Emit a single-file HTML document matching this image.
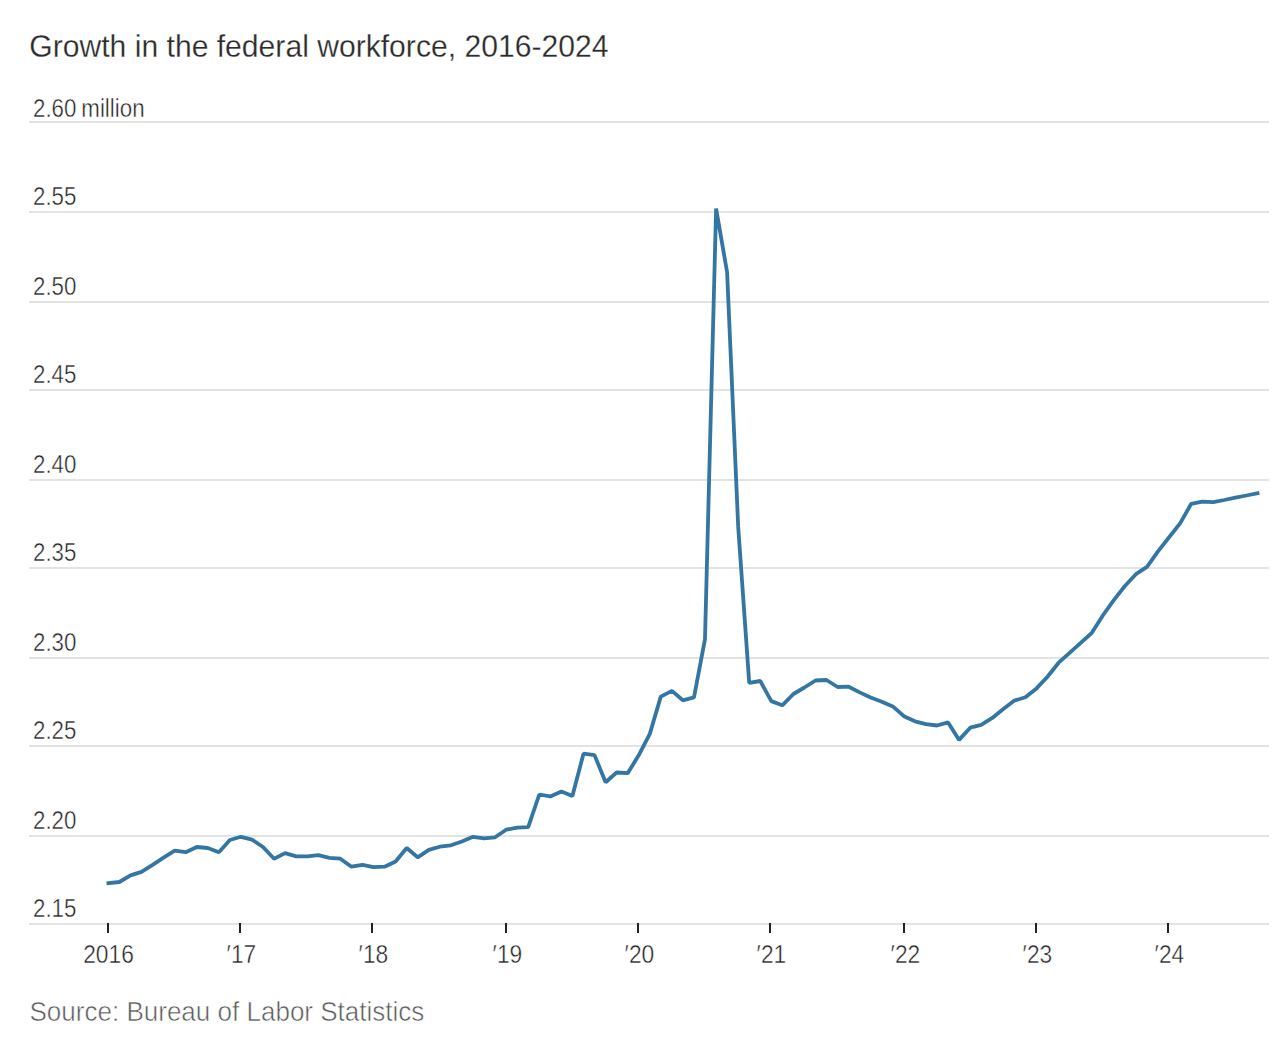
<!DOCTYPE html>
<html><head><meta charset="utf-8"><style>
html,body{margin:0;padding:0;background:#fff;}
svg{display:block;}
text{font-family:"Liberation Sans",sans-serif;}
</style></head><body>
<svg width="1284" height="1054" viewBox="0 0 1284 1054">
<rect width="1284" height="1054" fill="#fff"/>
<text transform="translate(29.3,57) scale(0.975,1)" font-size="30.9" fill="#2b2b2b" stroke="#fff" stroke-width="0.25">Growth in the federal workforce, 2016-2024</text>
<rect x="29" y="121.0" width="1240" height="2" fill="#e3e3e3"/><rect x="29" y="211.0" width="1240" height="2" fill="#e3e3e3"/><rect x="29" y="301.0" width="1240" height="2" fill="#e3e3e3"/><rect x="29" y="389.0" width="1240" height="2" fill="#e3e3e3"/><rect x="29" y="479.0" width="1240" height="2" fill="#e3e3e3"/><rect x="29" y="567.0" width="1240" height="2" fill="#e3e3e3"/><rect x="29" y="657.0" width="1240" height="2" fill="#e3e3e3"/><rect x="29" y="745.0" width="1240" height="2" fill="#e3e3e3"/><rect x="29" y="835.0" width="1240" height="2" fill="#e3e3e3"/><rect x="29" y="923.0" width="1240" height="2" fill="#e3e3e3"/>
<g font-size="26" fill="#1f1f1f" stroke="#fff" stroke-width="0.45"><text transform="translate(33,116.8) scale(0.858,1)" x="0" y="0">2.60<tspan dx="5.75">million</tspan></text><text transform="translate(33,204.8) scale(0.858,1)" x="0" y="0">2.55</text><text transform="translate(33,294.8) scale(0.858,1)" x="0" y="0">2.50</text><text transform="translate(33,382.9) scale(0.858,1)" x="0" y="0">2.45</text><text transform="translate(33,472.9) scale(0.858,1)" x="0" y="0">2.40</text><text transform="translate(33,560.8) scale(0.858,1)" x="0" y="0">2.35</text><text transform="translate(33,650.8) scale(0.858,1)" x="0" y="0">2.30</text><text transform="translate(33,738.8) scale(0.858,1)" x="0" y="0">2.25</text><text transform="translate(33,828.8) scale(0.858,1)" x="0" y="0">2.20</text><text transform="translate(33,916.8) scale(0.858,1)" x="0" y="0">2.15</text></g>
<rect x="107" y="923" width="2" height="10" fill="#222"/><rect x="239" y="923" width="2" height="10" fill="#222"/><rect x="371" y="923" width="2" height="10" fill="#222"/><rect x="505" y="923" width="2" height="10" fill="#222"/><rect x="637" y="923" width="2" height="10" fill="#222"/><rect x="769" y="923" width="2" height="10" fill="#222"/><rect x="903" y="923" width="2" height="10" fill="#222"/><rect x="1035" y="923" width="2" height="10" fill="#222"/><rect x="1167" y="923" width="2" height="10" fill="#222"/>
<g font-size="26" fill="#1f1f1f" stroke="#fff" stroke-width="0.45"><text text-anchor="middle" transform="translate(108.5,963) scale(0.876,1)">2016</text><text text-anchor="middle" transform="translate(241.4,963) scale(0.876,1)">′17</text><text text-anchor="middle" transform="translate(373.4,963) scale(0.876,1)">′18</text><text text-anchor="middle" transform="translate(507.4,963) scale(0.876,1)">′19</text><text text-anchor="middle" transform="translate(639.4,963) scale(0.876,1)">′20</text><text text-anchor="middle" transform="translate(771.4,963) scale(0.876,1)">′21</text><text text-anchor="middle" transform="translate(905.4,963) scale(0.876,1)">′22</text><text text-anchor="middle" transform="translate(1037.4,963) scale(0.876,1)">′23</text><text text-anchor="middle" transform="translate(1169.4,963) scale(0.876,1)">′24</text></g>
<path d="M108.4,883.2 L119.4,882.0 L130.5,875.4 L141.5,871.9 L152.6,864.8 L163.6,857.7 L174.7,850.6 L185.7,852.2 L196.8,847.0 L207.8,848.0 L218.9,852.2 L229.9,840.0 L240.9,836.8 L252.0,839.6 L263.0,847.0 L274.1,858.7 L285.1,853.1 L296.2,856.4 L307.2,856.4 L318.3,855.2 L329.3,857.8 L340.4,858.7 L351.4,866.7 L362.5,864.8 L373.5,867.1 L384.6,866.7 L395.6,861.5 L406.7,848.0 L417.7,857.3 L428.8,849.9 L439.8,846.7 L450.9,845.3 L461.9,841.5 L473.0,836.8 L484.0,838.3 L495.1,837.3 L506.1,829.7 L517.2,827.6 L528.2,827.2 L539.3,794.5 L550.3,796.4 L561.4,791.6 L572.4,795.9 L583.5,753.7 L594.5,755.1 L605.6,782.2 L616.6,772.5 L627.7,773.2 L638.7,755.3 L649.8,733.9 L660.8,696.6 L671.9,690.9 L682.9,700.3 L694.0,697.4 L705.0,639.1 L716.1,208.6 L727.1,272.2 L738.2,526.9 L749.2,682.8 L760.3,681.0 L771.3,701.1 L782.3,705.3 L793.4,694.0 L804.4,687.5 L815.5,680.5 L826.5,680.0 L837.6,687.0 L848.6,686.7 L859.7,692.4 L870.7,697.5 L881.8,701.7 L892.8,706.4 L903.9,716.2 L914.9,721.3 L926.0,724.1 L937.0,725.5 L948.1,722.4 L959.1,739.9 L970.2,727.7 L981.2,724.9 L992.3,717.9 L1003.3,709.0 L1014.4,700.6 L1025.4,697.3 L1036.5,688.4 L1047.5,676.8 L1058.6,662.7 L1069.6,652.8 L1080.7,642.9 L1091.7,633.0 L1102.8,615.5 L1113.8,600.1 L1124.9,586.0 L1135.9,574.2 L1147.0,566.8 L1158.0,551.4 L1169.1,537.3 L1180.1,523.4 L1191.2,503.8 L1202.2,501.6 L1213.3,502.2 L1224.3,500.0 L1235.4,497.7 L1246.4,495.5 L1257.5,493.2" fill="none" stroke="#3376a3" stroke-width="3.8" stroke-linejoin="bevel" stroke-linecap="square"/>
<text transform="translate(29.5,1021) scale(0.954,1)" font-size="27.3" fill="#5a5a5a" stroke="#fff" stroke-width="0.55">Source: Bureau of Labor Statistics</text>
</svg>
</body></html>
